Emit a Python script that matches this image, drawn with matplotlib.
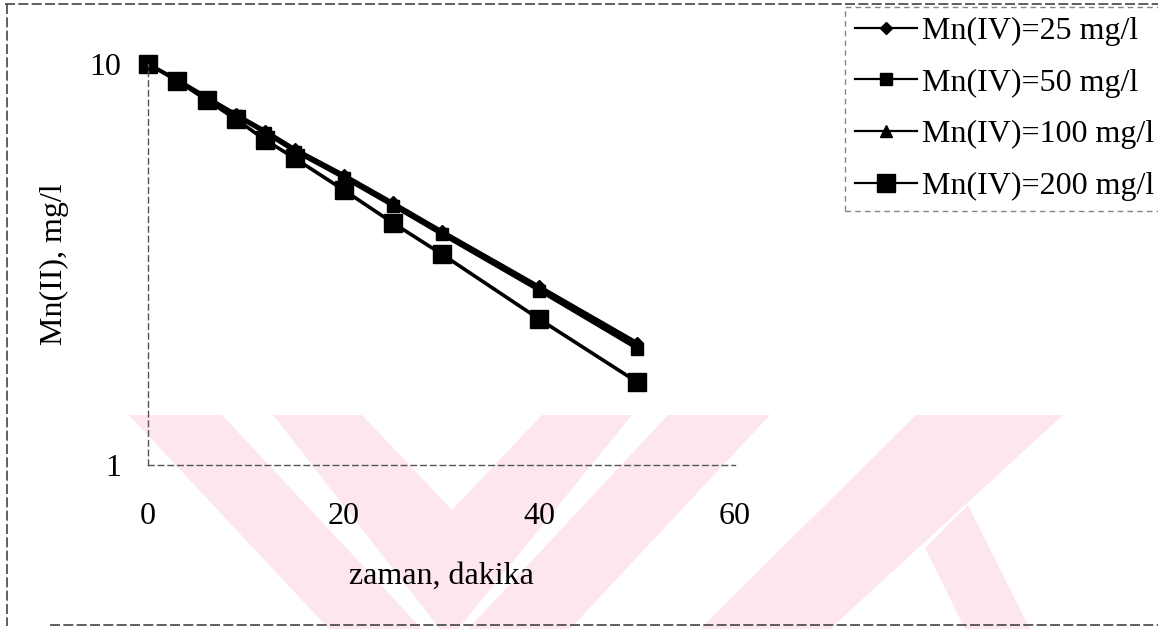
import matplotlib
matplotlib.use("Agg")
import matplotlib.pyplot as plt
from matplotlib.lines import Line2D
from matplotlib.patches import Polygon

# ---------------- data ----------------
time_min = [0, 3, 6, 9, 12, 15, 20, 25, 30, 40, 50]
mn25 = [10.0, 9.15, 8.28, 7.50, 6.82, 6.15, 5.30, 4.52, 3.84, 2.79, 2.02]
mn50 = [10.0, 9.12, 8.22, 7.42, 6.72, 6.05, 5.20, 4.43, 3.76, 2.72, 1.95]
mn100 = [10.0, 9.13, 8.25, 7.47, 6.78, 6.10, 5.26, 4.48, 3.80, 2.76, 1.98]
mn200 = [10.0, 9.08, 8.13, 7.28, 6.46, 5.82, 4.85, 4.02, 3.36, 2.31, 1.61]
series_labels = ["Mn(IV)=25 mg/l", "Mn(IV)=50 mg/l", "Mn(IV)=100 mg/l", "Mn(IV)=200 mg/l"]
x_ticks = [0, 20, 40, 60]
y_ticks = [1, 10]
x_label = "zaman, dakika"
y_label = "Mn(II), mg/l"

W, H = 1158, 629
plt.rcParams['font.family'] = ['Liberation Serif', 'DejaVu Serif']
fig = plt.figure(figsize=(W / 100, H / 100), dpi=100)

def fx(px):
    return px / W

def fy(py):
    return 1 - py / H

# faint pink watermark in background (decoration)
pink = "#fde7ec"
shapes = [
    [(129, 415), (222, 415), (422, 629), (329, 629)],
    [(273, 415), (362, 415), (452, 510), (542, 415), (632, 415), (458, 629), (440, 629)],
    [(668, 415), (770, 415), (570, 629), (468, 629)],
    [(916, 415), (1063, 415), (830, 629), (700, 629)],
    [(925, 548), (968, 505), (1030, 629), (965, 629)],
]
for s in shapes:
    fig.add_artist(Polygon([(fx(a), fy(b)) for a, b in s], closed=True,
                           transform=fig.transFigure, facecolor=pink,
                           edgecolor='none', zorder=-10))

# scanned page borders (decoration)
for (x0, y0, x1, y1) in [(5, 4, 1158, 4), (7, 4, 7, 626), (50, 625, 1158, 625)]:
    fig.add_artist(Line2D([fx(x0), fx(x1)], [fy(y0), fy(y1)], transform=fig.transFigure,
                          color='#444444', lw=1.2, ls=(0, (6, 2)), zorder=-5))

ax = fig.add_axes([fx(148), fy(465), fx(735) - fx(148), fy(64) - fy(465)])
ax.patch.set_alpha(0)

styles = [
    dict(marker='D', ms=6.5, lw=2.3),
    dict(marker='s', ms=8, lw=2.3),
    dict(marker='^', ms=9, lw=2.3),
    dict(marker='s', ms=12.5, lw=2.6),
]
for ys, lab, st in zip([mn25, mn50, mn100, mn200], series_labels, styles):
    ax.plot(time_min, ys, color='black', mfc='black', mec='black',
            label=lab, clip_on=False, **st)

ax.set_yscale('log')
ax.set_xlim(0, 60)
ax.set_ylim(1, 10)
ax.set_xticks(x_ticks)
ax.set_xticklabels([str(v) for v in x_ticks])
ax.set_yticks(y_ticks)
ax.set_yticklabels([str(v) for v in y_ticks])
ax.minorticks_off()
ax.yaxis.set_minor_locator(matplotlib.ticker.NullLocator())
ax.tick_params(axis='both', length=0, labelsize=23)
ax.tick_params(axis='y', pad=19)
ax.tick_params(axis='x', pad=27)

for side in ['top', 'right']:
    ax.spines[side].set_visible(False)
for side in ['left', 'bottom']:
    ax.spines[side].set_color('#555555')
    ax.spines[side].set_linewidth(1.0)
    ax.spines[side].set_linestyle((0, (4, 3)))

ax.set_xlabel(x_label, fontsize=23, labelpad=22)
ax.set_ylabel(y_label, fontsize=23)
ax.yaxis.set_label_coords(-0.135, 0.5)

leg = fig.legend(loc='upper left', bbox_to_anchor=(fx(845), fy(7)),
                 bbox_transform=fig.transFigure, fontsize=23, frameon=True,
                 fancybox=False, borderaxespad=0, handlelength=1.95,
                 handletextpad=0.15, labelspacing=0.70, borderpad=0.3)
fr = leg.get_frame()
fr.set_edgecolor('#666666')
fr.set_linewidth(1.0)
fr.set_linestyle((0, (4, 3)))
for h in leg.legend_handles:
    h.set_linewidth(1.6)

fig.savefig("out.png", dpi=100)
